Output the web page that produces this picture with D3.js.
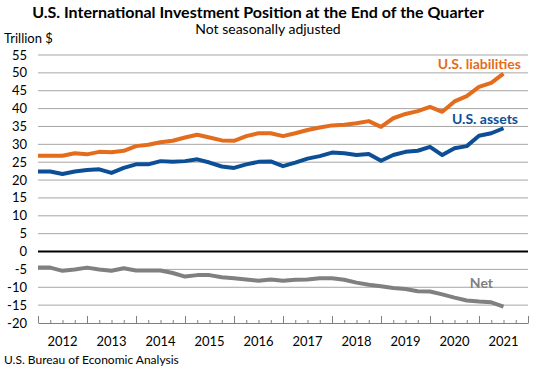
<!DOCTYPE html>
<html>
<head>
<meta charset="utf-8">
<script src="https://cdn.jsdelivr.net/npm/d3@7"></script>
<style>
  body { margin: 0; background: #fff; }
  text { font-family: Lato, "Open Sans", sans-serif; }
</style>
</head>
<body>
<div id="chart"></div>
<script>
// quarterly positions, 2011 Q4 .. 2021 Q2 (trillions of dollars)
const years = [2012, 2013, 2014, 2015, 2016, 2017, 2018, 2019, 2020, 2021];
const yTicks = [55, 50, 45, 40, 35, 30, 25, 20, 15, 10, 5, 0, -5, -10, -15, -20];

const liabilities = [26.8, 26.8, 26.8, 27.5, 27.2, 27.9, 27.8, 28.2, 29.5, 29.9,
    30.6, 31.0, 31.9, 32.7, 31.9, 31.1, 31.0, 32.3, 33.1, 33.1,
    32.3, 33.1, 34.0, 34.7, 35.3, 35.5, 35.9, 36.5, 34.9, 37.3,
    38.5, 39.3, 40.5, 39.1, 42.0, 43.5, 46.1, 47.2, 49.8];
const assets = [22.4, 22.4, 21.7, 22.4, 22.8, 23.0, 22.0, 23.4, 24.4, 24.4,
    25.3, 25.1, 25.3, 25.8, 24.9, 23.8, 23.4, 24.4, 25.1, 25.2,
    23.9, 24.9, 26.0, 26.7, 27.7, 27.5, 27.0, 27.3, 25.4, 27.0,
    27.9, 28.2, 29.3, 27.0, 28.9, 29.5, 32.4, 33.1, 34.5];
const net = [-4.5, -4.5, -5.4, -5.0, -4.5, -5.0, -5.4, -4.7, -5.3, -5.3,
    -5.3, -6.0, -7.0, -6.6, -6.6, -7.2, -7.5, -7.8, -8.2, -7.8,
    -8.2, -7.9, -7.8, -7.5, -7.5, -7.9, -8.7, -9.3, -9.7, -10.2,
    -10.5, -11.1, -11.2, -12.0, -12.9, -13.7, -14.0, -14.2, -15.4];

const width = 550, height = 373;
const margin = { top: 55, right: 22, bottom: 50, left: 38 };

const svg = d3.select("#chart").append("svg")
    .attr("width", width)
    .attr("height", height);

const x = d3.scaleLinear()
    .domain([0, years.length * 4])
    .range([margin.left, width - margin.right]);

const y = d3.scaleLinear()
    .domain([-20, 55])
    .range([height - margin.bottom, margin.top]);

// gridlines
svg.append("g")
    .selectAll("line")
    .data(yTicks.filter(d => d !== 0 && d !== -20))
    .enter().append("line")
    .attr("x1", x.range()[0])
    .attr("x2", x.range()[1])
    .attr("y1", d => y(d))
    .attr("y2", d => y(d))
    .attr("stroke", "#a6a6a6")
    .attr("stroke-width", 1);

// y tick labels
svg.append("g")
    .selectAll("text")
    .data(yTicks)
    .enter().append("text")
    .attr("x", 27)
    .attr("y", d => y(d))
    .attr("dy", "0.35em")
    .attr("text-anchor", "end")
    .attr("font-size", 13)
    .attr("fill", "#000")
    .text(d => d);

// x axis with quarter ticks pointing up
const xAxis = d3.axisBottom(x)
    .tickValues(d3.range(0, years.length * 4 + 1))
    .tickSize(0)
    .tickFormat("");
const gx = svg.append("g")
    .attr("transform", `translate(0,${y(-20)})`)
    .call(xAxis);
gx.select(".domain").attr("stroke", "#808080");
gx.selectAll(".tick line")
    .attr("stroke", "#808080")
    .attr("y2", d => d % 4 === 0 ? -7 : -3);

svg.append("g")
    .selectAll("text")
    .data(years)
    .enter().append("text")
    .attr("x", (d, i) => x(i * 4 + 2))
    .attr("y", y(-20) + 23)
    .attr("text-anchor", "middle")
    .attr("font-size", 13)
    .text(d => d);

// zero line
svg.append("line")
    .attr("x1", x.range()[0])
    .attr("x2", x.range()[1])
    .attr("y1", y(0))
    .attr("y2", y(0))
    .attr("stroke", "#000")
    .attr("stroke-width", 2);

const line = d3.line()
    .x((d, i) => x(i))
    .y(d => y(d));

const series = [
    { values: liabilities, color: "#e36c1d", label: "U.S. liabilities", lx: 521, ly: 64 },
    { values: assets, color: "#0d4f97", label: "U.S. assets", lx: 518, ly: 119 },
    { values: net, color: "#808080", label: "Net", lx: 493, ly: 283 }
];

series.forEach(s => {
    svg.append("path")
        .datum(s.values)
        .attr("d", line)
        .attr("fill", "none")
        .attr("stroke", s.color)
        .attr("stroke-width", 4)
        .attr("stroke-linejoin", "round");

    svg.append("text")
        .attr("x", s.lx)
        .attr("y", s.ly)
        .attr("dy", "0.35em")
        .attr("text-anchor", "end")
        .attr("font-size", 14)
        .attr("font-weight", "bold")
        .attr("fill", s.color)
        .text(s.label);
});

// titles
svg.append("text")
    .attr("x", 258)
    .attr("y", 18)
    .attr("text-anchor", "middle")
    .attr("font-size", 16)
    .attr("font-weight", "bold")
    .text("U.S. International Investment Position at the End of the Quarter");

svg.append("text")
    .attr("x", 268)
    .attr("y", 34)
    .attr("text-anchor", "middle")
    .attr("font-size", 14)
    .text("Not seasonally adjusted");

svg.append("text")
    .attr("x", 4)
    .attr("y", 43)
    .attr("font-size", 13)
    .text("Trillion $");

svg.append("text")
    .attr("x", 4)
    .attr("y", 364)
    .attr("font-size", 12)
    .text("U.S. Bureau of Economic Analysis");
</script>
</body>
</html>
